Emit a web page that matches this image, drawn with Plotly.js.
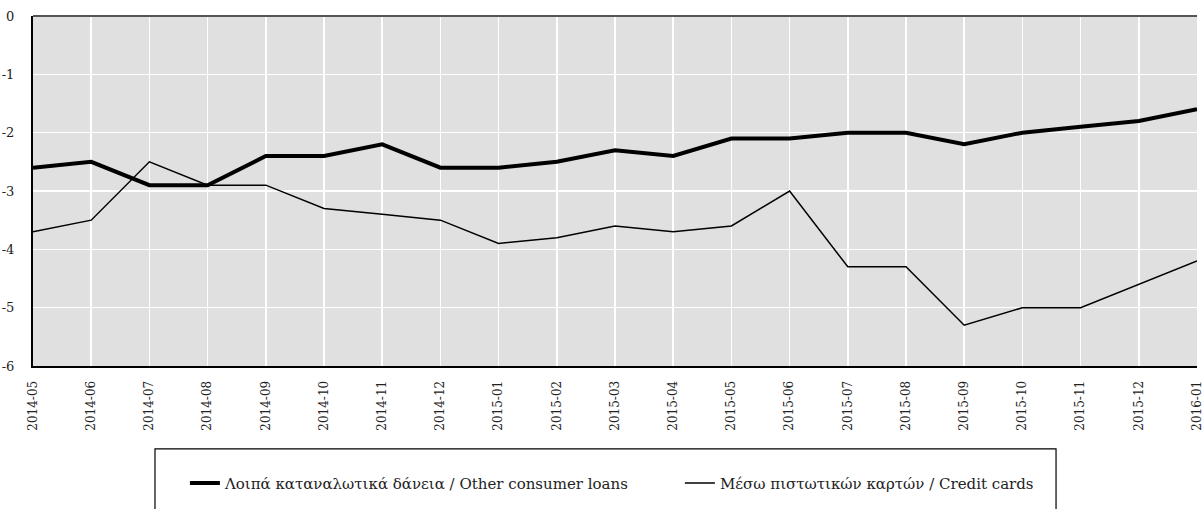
<!DOCTYPE html>
<html>
<head>
<meta charset="utf-8">
<script src="https://cdn.plot.ly/plotly-3.0.1.min.js"></script>
<style>html,body{margin:0;padding:0;background:#fff;}#chart{width:1203px;height:509px;}</style>
</head>
<body>
<div id="chart"></div>
<script>
const months = ["2014-05","2014-06","2014-07","2014-08","2014-09","2014-10","2014-11","2014-12",
  "2015-01","2015-02","2015-03","2015-04","2015-05","2015-06","2015-07","2015-08","2015-09",
  "2015-10","2015-11","2015-12","2016-01"];
const otherLoans = [-2.6,-2.5,-2.9,-2.9,-2.4,-2.4,-2.2,-2.6,-2.6,-2.5,-2.3,-2.4,-2.1,-2.1,-2.0,-2.0,-2.2,-2.0,-1.9,-1.8,-1.6];
const creditCards = [-3.7,-3.5,-2.5,-2.9,-2.9,-3.3,-3.4,-3.5,-3.9,-3.8,-3.6,-3.7,-3.6,-3.0,-4.3,-4.3,-5.3,-5.0,-5.0,-4.6,-4.2];
const seriesNames = ["Λοιπά καταναλωτικά δάνεια / Other consumer loans", "Μέσω πιστωτικών καρτών / Credit cards"];
const yTicks = [0,-1,-2,-3,-4,-5,-6];

const font = "DejaVu Serif";
const traces = [
  {x: months, y: otherLoans, name: seriesNames[0], type: "scatter", mode: "lines",
   line: {color: "#000", width: 4}},
  {x: months, y: creditCards, name: seriesNames[1], type: "scatter", mode: "lines",
   line: {color: "#000", width: 1.5}}
];
const layout = {
  width: 1203, height: 509,
  margin: {l: 33, r: 6, t: 16, b: 143, autoexpand: false},
  paper_bgcolor: "#fff", plot_bgcolor: "#e0e0e0",
  font: {family: font, size: 13, color: "#222"},
  showlegend: true,
  legend: {orientation: "h", x: 0.1305, xanchor: "left", y: -0.335, yanchor: "middle",
    font: {family: font, size: 15, color: "#222"}, bgcolor: "rgba(0,0,0,0)",
    entrywidth: 450, entrywidthmode: "pixels", traceorder: "normal"},
  xaxis: {type: "category", range: [0, months.length - 1], tickangle: -90,
    showgrid: true, gridcolor: "#fff", gridwidth: 1.5,
    showline: true, linecolor: "#000", linewidth: 2, ticks: "",
    ticklabelstandoff: 8, tickfont: {family: font, size: 12, color: "#222"}, zeroline: false},
  yaxis: {range: [-6, 0], tickvals: yTicks, ticktext: yTicks.map(String),
    showgrid: true, gridcolor: "#fff", gridwidth: 1.5,
    showline: true, linecolor: "#000", linewidth: 2, ticks: "", zeroline: false,
    ticklabelstandoff: 14, tickfont: {family: font, size: 13, color: "#222"}},
  shapes: [
    {type: "line", xref: "paper", yref: "paper", x0: 0, x1: 1, y0: 1, y1: 1,
     line: {color: "#555", width: 2}},
    {type: "rect", xref: "paper", yref: "paper", x0: 0.1048, x1: 0.8789, y0: -0.237, y1: -0.5,
     line: {color: "#000", width: 1.2}, fillcolor: "rgba(0,0,0,0)"}
  ]
};
Plotly.newPlot("chart", traces, layout, {staticPlot: true, displayModeBar: false});
</script>
</body>
</html>
